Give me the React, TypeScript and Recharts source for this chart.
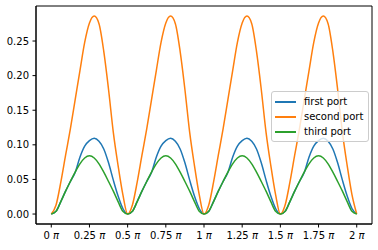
import { LineChart, Line, XAxis, YAxis, ReferenceArea } from "recharts";

// x positions in steps of pi/32 (0 .. 2 pi)
const steps = [
	0, 1, 2, 3, 4, 5, 6, 7, 8, 9, 10, 11, 12, 13, 14, 15,
	16, 17, 18, 19, 20, 21, 22, 23, 24, 25, 26, 27, 28, 29, 30, 31,
	32, 33, 34, 35, 36, 37, 38, 39, 40, 41, 42, 43, 44, 45, 46, 47,
	48, 49, 50, 51, 52, 53, 54, 55, 56, 57, 58, 59, 60, 61, 62, 63,
	64,
];

const firstPort = [
	0, 0.004, 0.018, 0.033, 0.047, 0.06, 0.082, 0.098, 0.106, 0.1094, 0.105, 0.094, 0.074, 0.049, 0.026, 0.008,
	0, 0.004, 0.018, 0.033, 0.047, 0.06, 0.082, 0.098, 0.106, 0.1094, 0.105, 0.094, 0.074, 0.049, 0.026, 0.008,
	0, 0.004, 0.018, 0.033, 0.047, 0.06, 0.082, 0.098, 0.106, 0.1094, 0.105, 0.094, 0.074, 0.049, 0.026, 0.008,
	0, 0.004, 0.018, 0.033, 0.047, 0.06, 0.082, 0.098, 0.106, 0.1094, 0.105, 0.094, 0.074, 0.049, 0.026, 0.008,
	0,
];

const secondPort = [
	0, 0.013, 0.046, 0.085, 0.123, 0.165, 0.207, 0.248, 0.276, 0.286, 0.275, 0.235, 0.18, 0.118, 0.07, 0.028,
	0, 0.013, 0.046, 0.085, 0.123, 0.165, 0.207, 0.248, 0.276, 0.286, 0.275, 0.235, 0.18, 0.118, 0.07, 0.028,
	0, 0.013, 0.046, 0.085, 0.123, 0.165, 0.207, 0.248, 0.276, 0.286, 0.275, 0.235, 0.18, 0.118, 0.07, 0.028,
	0, 0.013, 0.046, 0.085, 0.123, 0.165, 0.207, 0.248, 0.276, 0.286, 0.275, 0.235, 0.18, 0.118, 0.07, 0.028,
	0,
];

const thirdPort = [
	0, 0.004, 0.018, 0.033, 0.047, 0.0605, 0.0725, 0.081, 0.0842, 0.081, 0.0725, 0.0605, 0.047, 0.033, 0.018, 0.004,
	0, 0.004, 0.018, 0.033, 0.047, 0.0605, 0.0725, 0.081, 0.0842, 0.081, 0.0725, 0.0605, 0.047, 0.033, 0.018, 0.004,
	0, 0.004, 0.018, 0.033, 0.047, 0.0605, 0.0725, 0.081, 0.0842, 0.081, 0.0725, 0.0605, 0.047, 0.033, 0.018, 0.004,
	0, 0.004, 0.018, 0.033, 0.047, 0.0605, 0.0725, 0.081, 0.0842, 0.081, 0.0725, 0.0605, 0.047, 0.033, 0.018, 0.004,
	0,
];

const xTicks = [0, 8, 16, 24, 32, 40, 48, 56, 64];
const xTickLabels = ["0", "0.25", "0.5", "0.75", "1", "1.25", "1.5", "1.75", "2"];
const yTicks = [0, 0.05, 0.1, 0.15, 0.2, 0.25];

const series = [
	{ key: "first", name: "first port", color: "#1f77b4" },
	{ key: "second", name: "second port", color: "#ff7f0e" },
	{ key: "third", name: "third port", color: "#2ca02c" },
];

const data = steps.map((s, i) => ({
	x: s,
	first: firstPort[i],
	second: secondPort[i],
	third: thirdPort[i],
}));

const font = "'DejaVu Sans', sans-serif";
const X_MIN = -3.2;
const X_MAX = 67.2;
const Y_MIN = -0.0144;
const Y_MAX = 0.3006;

const PiTick = (props: any) => {
	const { x, y, payload } = props;
	const label = xTickLabels[xTicks.indexOf(payload.value)];
	return (
		<text x={x} y={y} dy="0.8em" textAnchor="middle" fontSize={10} fontFamily={font} fill="#000">
			<tspan>{label} </tspan>
			<tspan fontStyle="italic">π</tspan>
		</text>
	);
};

const LegendBox = () => (
	<div
		style={{
			position: "absolute",
			left: 271,
			top: 91,
			border: "1px solid #cccccc",
			borderRadius: 3,
			background: "rgba(255,255,255,0.8)",
			padding: "2px 5px 2px 3px",
			fontFamily: font,
			fontSize: 10,
			color: "#000",
			whiteSpace: "nowrap",
		}}
	>
		{series.map((s) => (
			<div key={s.key} style={{ display: "flex", alignItems: "center", height: 15 }}>
				<div style={{ width: 21, height: 2, background: s.color, marginRight: 8 }} />
				<span>{s.name}</span>
			</div>
		))}
	</div>
);

export default function App() {
	return (
		<div style={{ position: "absolute", left: 0, top: 0, width: 378, height: 250, background: "#fff" }}>
			<LineChart width={378} height={250} data={data} margin={{ top: 6, right: 6, bottom: 0, left: 0 }}>
				<XAxis
					dataKey="x"
					type="number"
					domain={[X_MIN, X_MAX]}
					ticks={xTicks}
					tick={<PiTick />}
					tickSize={3.5}
					tickMargin={3.5}
					height={26}
					stroke="#000"
					allowDataOverflow
				/>
				<YAxis
					type="number"
					domain={[Y_MIN, Y_MAX]}
					ticks={yTicks}
					tickFormatter={(v: number) => v.toFixed(2)}
					tick={{ fontSize: 10, fontFamily: font, fill: "#000" }}
					tickSize={3.5}
					tickMargin={3.5}
					width={36}
					stroke="#000"
					allowDataOverflow
				/>
				<ReferenceArea x1={X_MIN} x2={X_MAX} y1={Y_MIN} y2={Y_MAX} fill="none" stroke="#000" strokeWidth={1} />
				{series.map((s) => (
					<Line
						key={s.key}
						dataKey={s.key}
						name={s.name}
						type="monotone"
						stroke={s.color}
						strokeWidth={1.5}
						dot={false}
						isAnimationActive={false}
					/>
				))}
			</LineChart>
			<LegendBox />
		</div>
	);
}
